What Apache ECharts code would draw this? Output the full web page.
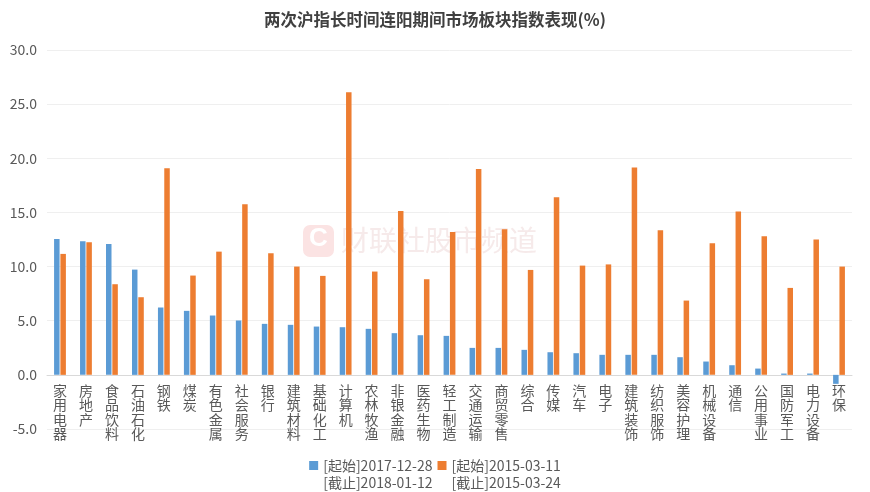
<!DOCTYPE html>
<html><head><meta charset="utf-8">
<script src="https://cdn.jsdelivr.net/npm/echarts@6/dist/echarts.min.js"></script>
<style>html,body{margin:0;padding:0;background:#fff}#c{width:870px;height:492px}</style>
</head><body><div id="c"></div>
<script>
const categories = ['家用电器','房地产','食品饮料','石油石化','钢铁','煤炭','有色金属','社会服务','银行','建筑材料','基础化工','计算机','农林牧渔','非银金融','医药生物','轻工制造','交通运输','商贸零售','综合','传媒','汽车','电子','建筑装饰','纺织服饰','美容护理','机械设备','通信','公用事业','国防军工','电力设备','环保'];
const series2018 = [12.55,12.34,12.09,9.72,6.22,5.91,5.48,5.02,4.71,4.62,4.46,4.40,4.25,3.85,3.66,3.60,2.49,2.49,2.31,2.09,2.00,1.85,1.85,1.85,1.63,1.23,0.89,0.58,0.12,0.12,-0.83];
const series2015 = [11.17,12.25,8.37,7.17,19.08,9.17,11.38,15.76,11.23,10.00,9.14,26.10,9.54,15.14,8.83,13.20,19.00,13.45,9.69,16.40,10.09,10.20,19.15,13.35,6.86,12.15,15.08,12.80,8.03,12.49,10.00];
const name2018 = '[起始]2017-12-28\n[截止]2018-01-12';
const name2015 = '[起始]2015-03-11\n[截止]2015-03-24';
const yTicks = {min:-5, max:30, interval:5};
const titleText = '两次沪指长时间连阳期间市场板块指数表现(%)';
const watermark = '财联社股市频道';

const chart = echarts.init(document.getElementById('c'), null, {renderer:'canvas'});
const font = '"Noto Sans CJK SC","Microsoft YaHei",sans-serif';
chart.setOption({
  animation:false,
  textStyle:{fontFamily:font},
  title:{text:titleText,left:'center',top:6,textStyle:{fontSize:16.5,fontWeight:'bold',color:'#404040',fontFamily:font}},
  graphic:[
    {type:'rect',left:303,top:225,shape:{width:31,height:32,r:7},style:{fill:'#fbe3e3'},z:0},
    {type:'text',left:309,top:226,style:{text:'C',fontSize:26,fontWeight:'bold',fill:'#ffffff',fontFamily:'Arial'},z:0},
    {type:'text',left:341,top:226,style:{text:watermark,fontSize:28,fill:'#f6eaea',fontFamily:font},z:0}
  ],
  legend:{
    top:440,left:'center',itemWidth:9,itemHeight:9,itemGap:5,padding:0,
    icon:'rect',
    formatter:n=>' \n'+n,
    textStyle:{fontSize:14,color:'#595959',lineHeight:17,fontFamily:font},
    data:[name2018,name2015]
  },
  grid:{left:47,right:18,top:50,bottom:63,outerBoundsMode:'none',containLabel:false},
  xAxis:{
    type:'category',data:categories,
    axisLine:{onZero:true,lineStyle:{color:'#d9d9d9'}},
    axisTick:{show:false},
    axisLabel:{interval:0,fontSize:14,lineHeight:14.5,color:'#595959',margin:-46,
      formatter:v=>v.split('').join('\n')}
  },
  yAxis:{
    type:'value',min:yTicks.min,max:yTicks.max,interval:yTicks.interval,
    axisLine:{show:false},axisTick:{show:false},
    splitLine:{lineStyle:{color:'#efefef'}},
    axisLabel:{fontSize:14,color:'#595959',margin:10,formatter:v=>v.toFixed(1)}
  },
  series:[
    {name:name2018,type:'bar',data:series2018,barWidth:5.5,barGap:'15%',itemStyle:{color:'#5B9BD5'}},
    {name:name2015,type:'bar',data:series2015,barWidth:5.5,barGap:'15%',itemStyle:{color:'#ED7D31'}}
  ]
});
</script></body></html>
